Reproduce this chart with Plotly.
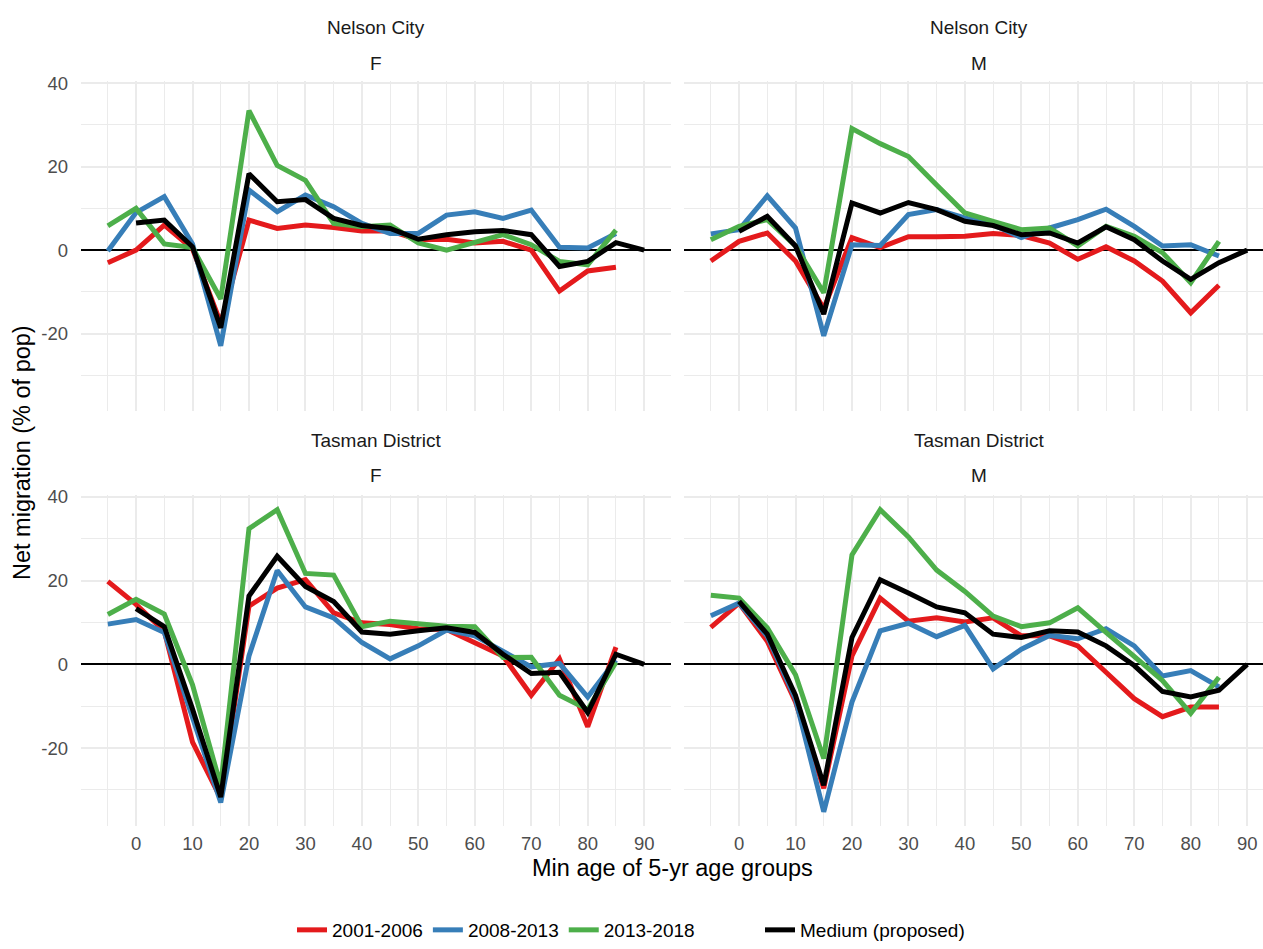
import plotly.graph_objects as go
from plotly.subplots import make_subplots

# Age groups (minimum age of each 5-year group)
ages_hist = [-5, 0, 5, 10, 15, 20, 25, 30, 35, 40, 45, 50, 55, 60, 65, 70, 75, 80, 85]
ages_proj = [0, 5, 10, 15, 20, 25, 30, 35, 40, 45, 50, 55, 60, 65, 70, 75, 80, 85, 90]

periods = ["2001-2006", "2008-2013", "2013-2018"]
projection_label = "Medium (proposed)"

# Nelson City, female
nc_f_2001 = [-3.0, 0.0, 6.0, 0.3, -17.5, 7.2, 5.2, 6.0, 5.4, 4.6, 4.6, 2.5, 2.6, 1.7, 2.1, 0.0, -9.8, -5.0, -4.1]
nc_f_2008 = [-0.2, 9.0, 12.8, 1.5, -22.9, 14.4, 9.2, 13.2, 10.4, 6.4, 4.0, 4.0, 8.4, 9.2, 7.6, 9.6, 0.7, 0.5, 4.0]
nc_f_2013 = [5.8, 10.0, 1.5, 0.6, -11.7, 33.4, 20.3, 16.7, 6.4, 5.6, 6.0, 1.7, 0.0, 2.0, 3.7, 1.3, -2.7, -3.5, 4.8]
nc_f_med = [6.5, 7.2, 0.8, -18.6, 18.3, 11.6, 12.1, 7.6, 5.9, 5.2, 2.6, 3.7, 4.4, 4.7, 3.7, -3.9, -2.7, 1.8, 0.0]

# Nelson City, male
nc_m_2001 = [-2.6, 2.1, 4.1, -2.6, -14.0, 3.0, 0.6, 3.2, 3.2, 3.3, 4.0, 3.5, 1.7, -2.2, 0.8, -2.6, -7.4, -15.0, -8.4]
nc_m_2008 = [3.9, 4.9, 13.0, 5.3, -20.5, 1.3, 1.1, 8.5, 9.7, 7.7, 6.1, 3.0, 5.3, 7.3, 9.8, 5.7, 1.0, 1.3, -1.4]
nc_m_2013 = [2.5, 5.7, 7.3, 1.0, -10.2, 29.1, 25.5, 22.4, 15.6, 8.9, 6.9, 4.9, 5.3, 1.0, 5.7, 3.3, -0.6, -7.8, 2.1]
nc_m_med = [4.5, 8.1, 1.0, -15.3, 11.3, 8.9, 11.4, 9.7, 6.9, 5.9, 3.7, 4.1, 1.7, 5.6, 2.5, -2.6, -7.0, -3.0, 0.0]

# Tasman District, female
td_f_2001 = [19.8, 14.3, 7.9, -18.6, -32.0, 13.9, 18.2, 20.2, 12.3, 9.9, 9.5, 8.5, 8.3, 5.2, 2.0, -7.4, 1.3, -14.9, 4.1]
td_f_2008 = [9.6, 10.7, 7.6, -12.3, -33.0, 2.0, 22.4, 13.7, 11.1, 5.2, 1.3, 4.4, 8.2, 6.8, 3.2, -0.6, 0.2, -7.8, 1.0]
td_f_2013 = [11.9, 15.5, 12.0, -4.9, -29.0, 32.4, 36.9, 21.7, 21.3, 9.0, 10.3, 9.8, 9.1, 9.0, 1.6, 1.7, -7.4, -10.8, 0.5]
td_f_med = [13.3, 9.0, -10.7, -31.7, 16.3, 25.8, 18.6, 15.0, 7.7, 7.2, 8.0, 8.7, 7.6, 2.4, -2.2, -1.9, -11.5, 2.4, 0.0]

# Tasman District, male
td_m_2001 = [8.8, 14.6, 5.5, -9.0, -29.6, 2.0, 15.8, 10.3, 11.1, 10.1, 11.1, 6.8, 6.8, 4.4, -1.9, -8.2, -12.5, -10.2, -10.2]
td_m_2008 = [11.6, 14.6, 6.7, -8.3, -35.2, -9.0, 8.0, 9.8, 6.6, 9.3, -1.1, 3.6, 6.9, 6.1, 8.5, 4.4, -2.8, -1.5, -5.4]
td_m_2013 = [16.5, 15.8, 8.7, -2.5, -22.5, 26.1, 36.9, 30.4, 22.5, 17.4, 11.5, 9.0, 9.9, 13.5, 7.6, 2.0, -3.9, -11.7, -3.1]
td_m_med = [15.0, 7.2, -7.4, -28.9, 6.4, 20.2, 17.0, 13.7, 12.3, 7.2, 6.4, 8.0, 7.7, 4.4, -0.3, -6.5, -7.8, -6.2, 0.0]

# Axis ticks
x_ticks = [0, 10, 20, 30, 40, 50, 60, 70, 80, 90]
y_ticks = [-20, 0, 20, 40]
y_tick_text = ["-20", "0", "20", "40"]

period_colors = ["#E41A1C", "#377EB8", "#4DAF4A"]
proj_color = "#000000"

panels = [
    # (row, col, area, sex, historic series, projection)
    (1, 1, "Nelson City", "F", [nc_f_2001, nc_f_2008, nc_f_2013], nc_f_med),
    (1, 2, "Nelson City", "M", [nc_m_2001, nc_m_2008, nc_m_2013], nc_m_med),
    (2, 1, "Tasman District", "F", [td_f_2001, td_f_2008, td_f_2013], td_f_med),
    (2, 2, "Tasman District", "M", [td_m_2001, td_m_2008, td_m_2013], td_m_med),
]

FONT = "Liberation Sans, Arial, sans-serif"
LINE_W = 5

fig = make_subplots(rows=2, cols=2)

for i, (r, c, area, sex, hist, med) in enumerate(panels):
    first = i == 0
    for name, vals, col in zip(periods, hist, period_colors):
        fig.add_trace(go.Scatter(
            x=ages_hist, y=vals, mode="lines", name=name,
            line=dict(color=col, width=LINE_W),
            legendgroup=name, showlegend=first, legend="legend",
        ), row=r, col=c)
    fig.add_trace(go.Scatter(
        x=ages_proj, y=med, mode="lines", name=projection_label,
        line=dict(color=proj_color, width=LINE_W),
        legendgroup=projection_label, showlegend=first, legend="legend2",
    ), row=r, col=c)

# Figure geometry in pixels
W, H = 1263, 949
ML, MR, MT, MB = 81, 0, 81, 117
PW, PH = W - ML - MR, H - MT - MB

def px_x(p):
    return (p - ML) / PW

def px_y(p):
    return (H - MB - p) / PH

col1_dom = [0.0, px_x(671)]
col2_dom = [px_x(684), 1.0]
row1_dom = [px_y(414), 1.0]
row2_dom = [0.0, px_y(498)]

x_full = [-9.75, 94.75]
px_per_unit = (671 - 81) / (x_full[1] - x_full[0])
x_col2 = [-9.75, -9.75 + (W - 684) / px_per_unit]
y_rng = [-38.6, 40.5]

grid_c = "#EBEBEB"
tick_font = dict(family=FONT, size=18.5, color="#4D4D4D")

def xaxis_style(dom, rng, labels):
    return dict(
        domain=dom, range=rng, tickmode="array", tickvals=x_ticks,
        showgrid=True, gridcolor=grid_c, gridwidth=1.6, zeroline=False,
        showline=False, ticks="", showticklabels=labels, tickfont=tick_font,
        ticklabelstandoff=4,
        minor=dict(dtick=5, tick0=0, showgrid=True, gridcolor=grid_c, gridwidth=1.1),
    )

def yaxis_style(dom, labels):
    return dict(
        domain=dom, range=y_rng, tickmode="array", tickvals=y_ticks,
        ticktext=y_tick_text, showgrid=True, gridcolor=grid_c, gridwidth=1.6,
        zeroline=True, zerolinecolor="#000000", zerolinewidth=2, showline=False,
        ticks="", showticklabels=labels, tickfont=tick_font, ticklabelstandoff=12,
        minor=dict(dtick=10, tick0=0, showgrid=True, gridcolor=grid_c, gridwidth=1.1),
    )

fig.update_layout(
    xaxis=xaxis_style(col1_dom, x_full, False),
    xaxis2=xaxis_style(col2_dom, x_col2, False),
    xaxis3=xaxis_style(col1_dom, x_full, True),
    xaxis4=xaxis_style(col2_dom, x_col2, True),
    yaxis=yaxis_style(row1_dom, True),
    yaxis2=yaxis_style(row1_dom, False),
    yaxis3=yaxis_style(row2_dom, True),
    yaxis4=yaxis_style(row2_dom, False),
)

# Facet strip labels (two lines: area, then sex)
strip_font = dict(family=FONT, size=19, color="#1A1A1A")
annotations = []
centre = (x_full[0] + x_full[1]) / 2
for r, c, area, sex, _, _ in panels:
    xref = "x" if (r, c) == (1, 1) else f"x{(r - 1) * 2 + c}"
    top_px = 27 if r == 1 else 443
    annotations.append(dict(text=area, x=centre, xref=xref, y=px_y(top_px), yref="paper",
                            showarrow=False, font=strip_font, xanchor="center", yanchor="middle"))
    annotations.append(dict(text=sex, x=centre, xref=xref, y=px_y(top_px + 36), yref="paper",
                            showarrow=False, font=strip_font, xanchor="center", yanchor="middle"))

title_font = dict(family=FONT, size=23.5, color="#000000")
annotations.append(dict(text="Min age of 5-yr age groups", x=px_x(672), xref="paper",
                        y=px_y(874), yref="paper", showarrow=False, font=title_font,
                        xanchor="center", yanchor="middle"))
annotations.append(dict(text="Net migration (% of pop)", x=px_x(22), xref="paper",
                        y=px_y(456), yref="paper", showarrow=False, font=title_font,
                        textangle=-90, xanchor="center", yanchor="middle"))

legend_font = dict(family=FONT, size=19, color="#000000")
fig.update_layout(
    width=W, height=H,
    margin=dict(l=ML, r=MR, t=MT, b=MB),
    paper_bgcolor="white", plot_bgcolor="white",
    font=dict(family=FONT),
    annotations=annotations,
    legend=dict(orientation="h", x=px_x(292), xanchor="left", y=px_y(937), yanchor="middle",
                font=legend_font, bgcolor="rgba(0,0,0,0)", itemwidth=30, tracegroupgap=0),
    legend2=dict(orientation="h", x=px_x(760), xanchor="left", y=px_y(937), yanchor="middle",
                 font=legend_font, bgcolor="rgba(0,0,0,0)", itemwidth=30),
    showlegend=True,
)

fig.write_html("out.html")
